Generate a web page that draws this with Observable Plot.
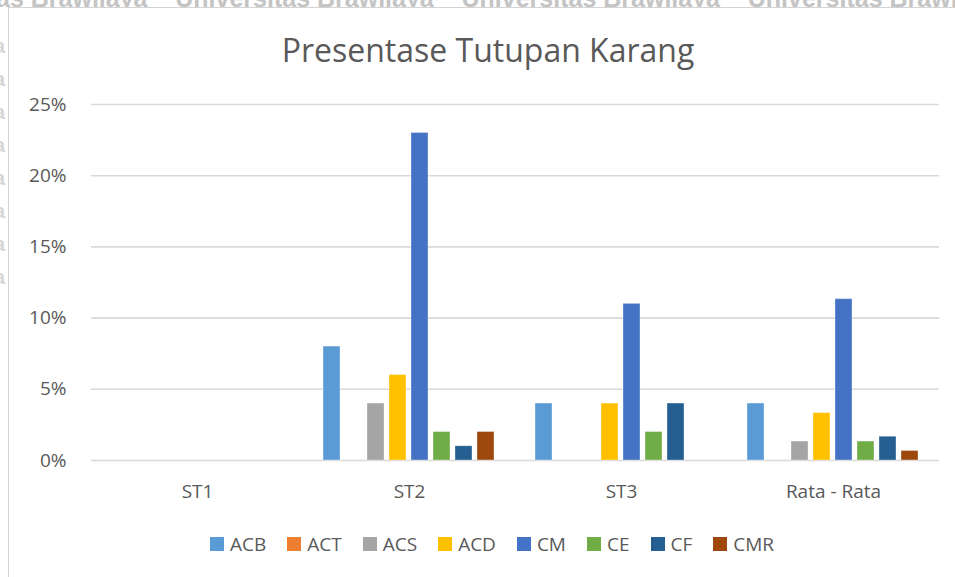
<!DOCTYPE html>
<html>
<head>
<meta charset="utf-8">
<script src="https://cdn.jsdelivr.net/npm/d3@7"></script>
<script src="https://cdn.jsdelivr.net/npm/@observablehq/plot@0.6"></script>
<style>
  html, body { margin: 0; padding: 0; background: #fff; }
  #page { position: relative; width: 955px; height: 577px; overflow: hidden; background: #fff; font-family: "Open Sans", sans-serif; color: #595959; }
  #wm { position: absolute; left: -4px; top: -16px; white-space: pre; font-family: "Liberation Sans", Arial, sans-serif; font-weight: bold; font-size: 25px; color: #c4c4c4; }
  #wmv { position: absolute; left: -6px; top: 30px; font-family: "Liberation Sans", Arial, sans-serif; font-weight: bold; font-size: 20px; color: #d6d6d6; line-height: 33px; z-index: 2; }
  #frame { position: absolute; left: 8px; top: 7px; width: 1000px; height: 600px; border-left: 1.5px solid #d4d4d4; border-top: 1.5px solid #d4d4d4; background: #fff; }
  #title { position: absolute; left: 0; width: 976px; top: 28px; text-align: center; font-size: 32px; color: #595959; }
  #chart { position: absolute; left: -2px; top: 80px; }
  #legend { position: absolute; left: 210px; top: 531px; display: flex; align-items: center; font-size: 19px; color: #595959; }
  .item { display: flex; align-items: center; margin-right: 21px; }
  .sw { width: 14px; height: 14px; margin-right: 6px; }
</style>
</head>
<body>
<div id="page">
  <div id="wm">as Brawijaya    Universitas Brawijaya    Universitas Brawijaya    Universitas Brawijaya    Universitas</div>
  <div id="frame"></div>
  <div id="wmv">a<br>a<br>a<br>a<br>a<br>a<br>a<br>a</div>
  <div id="title">Presentase Tutupan Karang</div>
  <div id="chart"></div>
  <div id="legend"></div>
</div>
<script>
const categories = ["ST1", "ST2", "ST3", "Rata - Rata"];
const series = ["ACB", "ACT", "ACS", "ACD", "CM", "CE", "CF", "CMR"];
const colors = ["#5b9bd5", "#ed7d31", "#a5a5a5", "#ffc000", "#4472c4", "#70ad47", "#255e91", "#9e480e"];
const st1 = [0, 0, 0, 0, 0, 0, 0, 0];
const st2 = [8, 0, 4, 6, 23, 2, 1, 2];
const st3 = [4, 0, 0, 4, 11, 2, 4, 0];
const rata = [4, 0, 1.33, 3.33, 11.33, 1.33, 1.67, 0.67];
const yTicks = [0, 5, 10, 15, 20, 25];

const valuesByCat = [st1, st2, st3, rata];
const data = [];
categories.forEach((c, i) => series.forEach((s, j) => {
  data.push({cat: c, series: s, value: valuesByCat[i][j]});
}));

const chart = Plot.plot({
  width: 957,
  height: 430,
  marginLeft: 91,
  marginRight: 15,
  marginTop: 24,
  marginBottom: 50,
  style: {fontFamily: "Open Sans, sans-serif", fontSize: "19px", color: "#595959", background: "transparent"},
  fx: {domain: categories, padding: 0, label: null, tickSize: 0, tickPadding: 24, axis: "bottom"},
  x: {domain: series, axis: null, paddingInner: 0.215, paddingOuter: 0.88},
  y: {domain: [0, 25], ticks: yTicks, tickFormat: d => d + "%", label: null, tickSize: 0, tickPadding: 25},
  color: {domain: series, range: colors},
  marks: [
    Plot.gridY(yTicks, {stroke: "#d9d9d9", strokeOpacity: 1, strokeWidth: 1.6}),
    Plot.barY(data.filter(d => d.value > 0), {fx: "cat", x: "series", y: "value", fill: "series", stroke: "#ffffff", strokeOpacity: 0.35, strokeWidth: 1}),
    Plot.tickY(data, {fx: "cat", x: "series", y: "value", strokeOpacity: 0})
  ]
});
document.getElementById("chart").appendChild(chart);

const legend = document.getElementById("legend");
series.forEach((s, i) => {
  const it = document.createElement("div");
  it.className = "item";
  const sw = document.createElement("div");
  sw.className = "sw";
  sw.style.background = colors[i];
  const t = document.createElement("span");
  t.textContent = s;
  it.appendChild(sw);
  it.appendChild(t);
  legend.appendChild(it);
});
</script>
</body>
</html>
